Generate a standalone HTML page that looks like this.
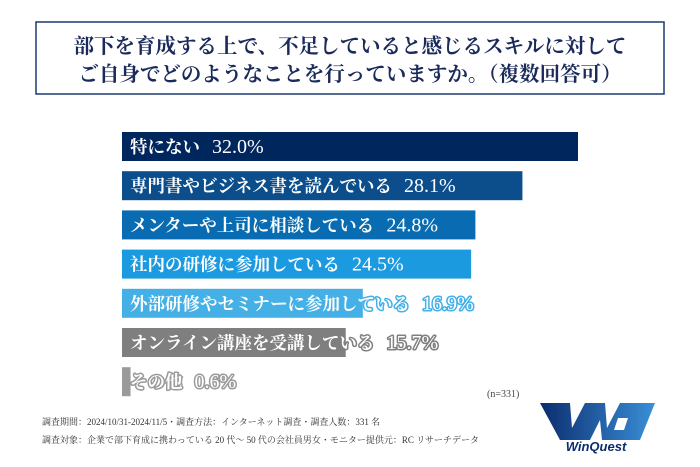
<!DOCTYPE html>
<html><head><meta charset="utf-8">
<style>
body{margin:0;width:700px;height:467px;background:#fff;overflow:hidden;font-family:"Liberation Serif","Noto Serif CJK SC",serif;}
svg{display:block}
</style></head>
<body>
<svg id="chart" width="700" height="467">
  <rect x="36" y="22" width="628" height="72" fill="#fff" stroke="#1f3a70" stroke-width="1.5"/>
  <text x="350" y="53" text-anchor="middle" font-size="20.5" font-weight="bold" fill="#1a2a5a" font-family="Liberation Serif, Noto Serif CJK SC, serif">部下を育成する上で、不足していると感じるスキルに対して</text>
  <text x="350" y="81" text-anchor="middle" font-size="20.5" font-weight="bold" fill="#1a2a5a" font-family="Liberation Serif, Noto Serif CJK SC, serif">ご自身でどのようなことを行っていますか。（複数回答可）</text>
  <g id="bars"></g>
  <text x="487" y="397" font-size="10" fill="#444">(n=331)</text>
  <text x="42" y="425" font-size="9" fill="#333">調査期間：2024/10/31-2024/11/5・調査方法：インターネット調査・調査人数：331 名</text>
  <text x="42" y="443" font-size="9" fill="#333">調査対象：企業で部下育成に携わっている 20 代〜 50 代の会社員男女・モニター提供元：RC リサーチデータ</text>
  <g>
    <defs><linearGradient id="lg" x1="0" x2="1"><stop offset="0" stop-color="#0b2d6e"/><stop offset="1" stop-color="#3a8fd8"/></linearGradient></defs>
    <polygon points="540,403 570,403 572,428 585,403 605,403 607,428 620,403 655,403 640,440 602,440 600,420 590,440 560,440" fill="url(#lg)"/>
    <polygon points="618,418 628,418 624,430 614,430" fill="#fff"/>
    <text x="596" y="451" text-anchor="middle" font-size="13" font-weight="bold" font-style="italic" fill="#0b2d6e" font-family="Liberation Sans, sans-serif" stroke="#fff" stroke-width="2" paint-order="stroke">WinQuest</text>
  </g>
</svg>
<script>
const categories=["特にない","専門書やビジネス書を読んでいる","メンターや上司に相談している","社内の研修に参加している","外部研修やセミナーに参加している","オンライン講座を受講している","その他"];
const values=[32.0,28.1,24.8,24.5,16.9,15.7,0.6];
const valueLabels=["32.0%","28.1%","24.8%","24.5%","16.9%","15.7%","0.6%"];
const colors=["#00265e","#0c4e8c","#096cb2","#1c9ae0","#45b0e6","#7f7f7f","#9a9a9a"];
const x0=122, pxPer=14.25, y0=132, pitch=39.2, bh=29;
const xS=v=>x0+v*pxPer;
const yS=i=>y0+i*pitch;
const g=document.getElementById('bars');
const NS='http://www.w3.org/2000/svg';
categories.forEach((c,i)=>{
  const r=document.createElementNS(NS,'rect');
  
  
  r.setAttribute('x',x0);r.setAttribute('y',yS(i));
  r.setAttribute('width',xS(values[i])-x0);r.setAttribute('height',bh);
  r.setAttribute('fill',colors[i]);
  g.appendChild(r);
  const t=document.createElementNS(NS,'text');
  
  
  t.setAttribute('x',x0+8);t.setAttribute('y',yS(i)+21);
  t.setAttribute('font-size','17.5');t.setAttribute('font-weight','bold');
  t.setAttribute('fill','#fff');
  t.setAttribute('stroke',colors[i]);t.setAttribute('stroke-width','3');
  t.setAttribute('paint-order','stroke');t.setAttribute('stroke-linejoin','round');
  const s1=document.createElementNS(NS,'tspan');
  s1.textContent=c;
  t.appendChild(s1);
  const s2=document.createElementNS(NS,'tspan');
  s2.setAttribute('dx','12');
  s2.setAttribute('font-size','20');
  s2.setAttribute('font-weight','normal');
  s2.textContent=valueLabels[i];
  t.appendChild(s2);
  g.appendChild(t);
});
</script>
</body></html>
